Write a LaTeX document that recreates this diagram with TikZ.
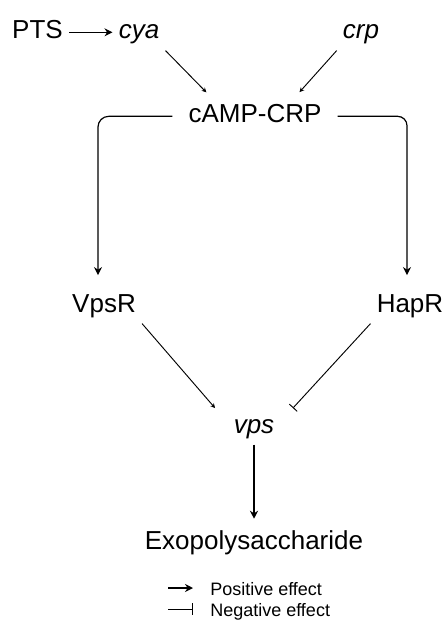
\documentclass[tikz,border=0pt]{standalone}
\usepackage{fontspec}
\setmainfont{Liberation Sans}
\usetikzlibrary{arrows.meta, positioning}
\tikzset{
  gene/.style={font=\fontsize{19.5}{23}\selectfont, inner sep=4.5pt,
               text height=14pt, text depth=4pt, anchor=base},
  locus/.style={gene, font=\fontsize{19.5}{23}\selectfont\itshape},
  legtext/.style={font=\fontsize{13.5}{16}\selectfont, inner sep=0pt, anchor=base west},
  arrow/.style={-{Stealth[length=6pt, width=6pt]}, line width=0.9pt},
  thinarrow/.style={-{Stealth[length=3.5pt, width=3.5pt]}, line width=0.7pt},
  inhibit/.style={-{Bar[width=8pt]}, line width=0.7pt},
}

\begin{document}
\begin{tikzpicture}[x=0.75pt, y=-0.75pt]
        \useasboundingbox (0,0) rectangle (447,620);

        % top row
        \node[gene] (pts) at (37.5, 39) {PTS};
        \node[locus] (cya) at (139, 39) {cya};
        \node[locus] (crp) at (361, 39) {crp};
        \draw[arrow] (pts.east) -- (cya.west);

        % complex
        \node[gene, inner xsep=12pt] (camp) at (255, 123) {cAMP-CRP};
        \draw[thinarrow, shorten >=6pt] (cya.south east) -- (camp.157);
        \draw[thinarrow, shorten >=6pt] (crp.south west) -- (camp.25);

        % regulators
        \node[gene] (vpsr) at (104, 312) {VpsR};
        \node[gene] (hapr) at (410, 312) {HapR};
        \draw[arrow, rounded corners=8pt, shorten >=9pt] (camp.west) -| ([xshift=-4.5pt]vpsr.north);
        \draw[arrow, rounded corners=7pt, shorten >=9pt] (camp.east) -| ([xshift=-2.25pt]hapr.north);

        % vps genes
        \node[locus, minimum width=58pt] (vps) at (254, 433) {vps};
        \draw[thinarrow] (vpsr.south east) -- (vps.north west);
        \draw[inhibit] (hapr.south west) -- (vps.north east);

        % product
        \node[gene] (exo) at (254, 549) {Exopolysaccharide};
        \draw[arrow, shorten >=4pt] (vps.south) -- (exo.north);

        % legend
        \coordinate (posa) at (168, 588);
        \coordinate (posb) at (193, 588);
        \coordinate (nega) at (168, 609);
        \coordinate (negb) at (193, 609);
        \draw[arrow] (posa) -- (posb);
        \draw[inhibit, -{Bar[width=9pt]}] (nega) -- (negb);
        \node[legtext] (postext) at (210, 595) {Positive effect};
        \node[legtext] (negtext) at (210, 616) {Negative effect};
\end{tikzpicture}
\end{document}
